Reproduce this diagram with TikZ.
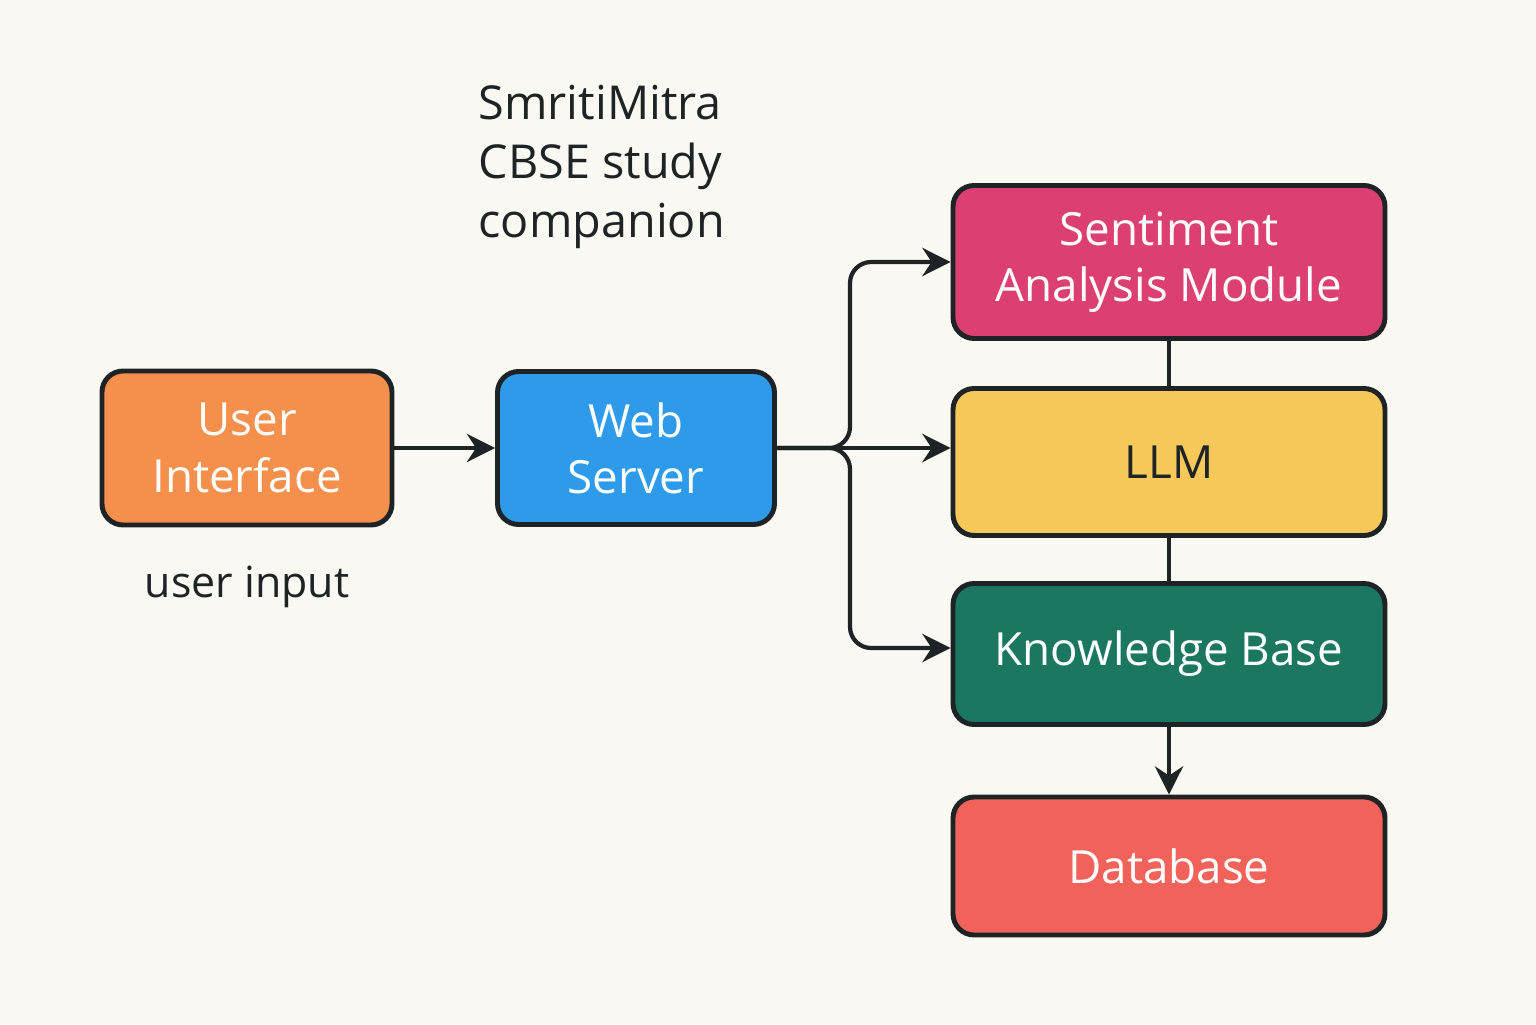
\documentclass[tikz,border=0pt]{standalone}
\usepackage{fontspec}
\setmainfont{Open Sans}
\usetikzlibrary{positioning,arrows.meta}
\definecolor{bgcol}{HTML}{FAF8F3}
\definecolor{uicol}{HTML}{F4904C}
\definecolor{webcol}{HTML}{2D9BEA}
\definecolor{sentcol}{HTML}{DC3F72}
\definecolor{llmcol}{HTML}{F6C759}
\definecolor{kbcol}{HTML}{1B7760}
\definecolor{dbcol}{HTML}{F1635A}
\definecolor{inkcol}{HTML}{1E2326}
\tikzset{
  box/.style={draw=inkcol, line width=1.4pt, rounded corners=6pt, align=center,
    text=white, inner sep=0pt, font=\fontsize{13}{16}\selectfont},
  conn/.style={draw=inkcol, line width=1.2pt},
  arr/.style={conn, -{Stealth[length=8pt,width=8pt]}}
}
\begin{document}
\begin{tikzpicture}
\fill[bgcol] (0,0) rectangle (15.36,10.24);
\useasboundingbox (0,0) rectangle (15.36,10.24);

\node[box, fill=uicol, minimum width=2.9cm, minimum height=1.54cm] (ui) at (2.47,5.76) {User\\Interface};
\node[box, fill=webcol, minimum width=2.77cm, minimum height=1.53cm] (web) at (6.36,5.76) {Web\\Server};
\node[box, fill=sentcol, minimum width=4.32cm, minimum height=1.53cm] (sent) at (11.69,7.62) {Sentiment\\Analysis Module};
\node[box, fill=llmcol, text=inkcol, minimum width=4.32cm, minimum height=1.47cm] (llm) at (11.69,5.62) {LLM};
\node[box, fill=kbcol, minimum width=4.32cm, minimum height=1.41cm] (kb) at (11.69,3.70) {Knowledge Base};
\node[box, fill=dbcol, minimum width=4.32cm, minimum height=1.38cm] (db) at (11.69,1.58) {Database};

\node[align=left, anchor=north west, inner sep=0pt, text=inkcol, font=\fontsize{13.3}{16.8}\selectfont] (title) at (4.78,9.4) {SmritiMitra\\CBSE study\\companion};
\node[text=inkcol, font=\fontsize{12.2}{15}\selectfont] (inp) at (2.47,4.37) {user input};

\coordinate (split) at (8.5,5.76);
\draw[arr] (ui) -- (web);
\draw[arr] (web.east) -- (llm.west |- web.east);
\draw[arr, rounded corners=6pt] (web.east) -- (split) |- (sent.west);
\draw[arr, rounded corners=6pt] (web.east) -- (split) |- (kb.west |- 0,3.76);
\draw[conn] (sent) -- (llm);
\draw[conn] (llm) -- (kb);
\draw[arr] (kb) -- (db);
\end{tikzpicture}
\end{document}
